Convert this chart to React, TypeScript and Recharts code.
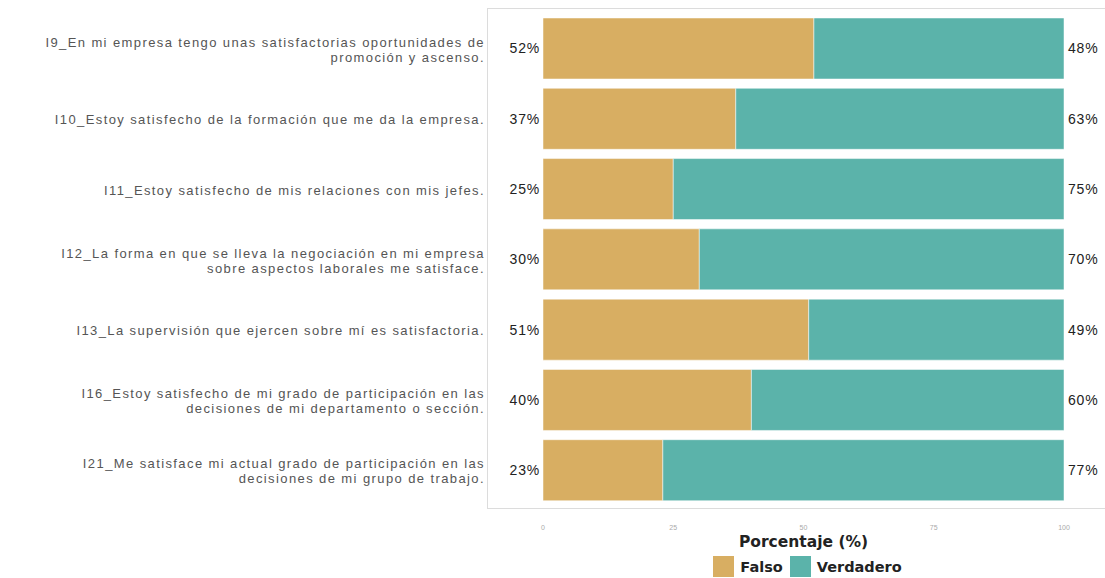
import { BarChart, Bar, XAxis, YAxis, LabelList, Legend } from 'recharts'

const items = [
  'I9_En mi empresa tengo unas satisfactorias oportunidades de|promoción y ascenso.',
  'I10_Estoy satisfecho de la formación que me da la empresa.',
  'I11_Estoy satisfecho de mis relaciones con mis jefes.',
  'I12_La forma en que se lleva la negociación en mi empresa|sobre aspectos laborales me satisface.',
  'I13_La supervisión que ejercen sobre mí es satisfactoria.',
  'I16_Estoy satisfecho de mi grado de participación en las|decisiones de mi departamento o sección.',
  'I21_Me satisface mi actual grado de participación en las|decisiones de mi grupo de trabajo.',
]
const falso = [52, 37, 25, 30, 51, 40, 23]
const verdadero = [48, 63, 75, 70, 49, 60, 77]
const xTicks = [0, 25, 50, 75, 100]

const FALSO_COLOR = '#D8AE62'
const VERDADERO_COLOR = '#5BB3AA'
const BOLD_FONT = 'DejaVu Sans, sans-serif'

const chartData = items.map((item, i) => ({
  item,
  falso: falso[i],
  verdadero: verdadero[i],
}))

// two-line labels, right aligned against the panel
function ItemTick(props: any) {
  const { y, payload } = props
  const lines = String(payload.value).split('|')
  const startY = y - ((lines.length - 1) * 15) / 2 + 1
  return (
    <text
      x={485}
      y={startY}
      textAnchor="end"
      dominantBaseline="central"
      fill="#555"
      fontSize={13}
      letterSpacing={1.4}
      fontFamily="Liberation Sans, Arial, sans-serif"
    >
      {lines.map((line, i) => (
        <tspan key={i} x={485} dy={i === 0 ? 0 : 15}>
          {line}
        </tspan>
      ))}
    </text>
  )
}

function LegendContent(props: any) {
  const { payload } = props
  return (
    <div style={{ display: 'flex', justifyContent: 'center', gap: 7, fontFamily: BOLD_FONT, fontWeight: 700, fontSize: 14.5, color: '#222' }}>
      {payload.map((p: any) => (
        <div key={p.value} style={{ display: 'flex', alignItems: 'center', gap: 6 }}>
          <span style={{ width: 21, height: 21, background: p.color, display: 'inline-block' }} />
          <span>{p.value}</span>
        </div>
      ))}
    </div>
  )
}

export default function App() {
  return (
    <div style={{ position: 'absolute', left: 0, top: 0, width: 1105, height: 578, background: '#fff' }}>
      <div
        style={{
          position: 'absolute',
          left: 487,
          top: 8,
          width: 640,
          height: 501,
          border: '1px solid #dcdcdc',
          boxSizing: 'border-box',
        }}
      />
      <div style={{ position: 'absolute', left: 0, top: 0 }}>
        <BarChart
          width={1105}
          height={578}
          data={chartData}
          layout="vertical"
          margin={{ top: 13, right: 41, bottom: 0, left: 0 }}
        >
          <XAxis
            type="number"
            domain={[0, 100]}
            ticks={xTicks}
            axisLine={false}
            tickLine={false}
            tickMargin={14}
            height={73}
            tick={{ fontSize: 7, fill: '#aaa', fontFamily: 'Liberation Sans, Arial, sans-serif' }}
            label={{
              value: 'Porcentaje (%)',
              position: 'insideTop',
              offset: 31,
              style: { fontFamily: BOLD_FONT, fontWeight: 700, fontSize: 15.5, fill: '#222' },
            }}
          />
          <YAxis
            type="category"
            dataKey="item"
            width={543}
            axisLine={false}
            tickLine={false}
            tick={<ItemTick />}
          />
          <Legend
            verticalAlign="middle"
            align="center"
            content={<LegendContent />}
            wrapperStyle={{ top: 556, left: 547, width: 521 }}
          />
          <Bar dataKey="falso" name="Falso" stackId="a" fill={FALSO_COLOR} barSize={61} stroke="#fff" strokeWidth={0.5} isAnimationActive={false}>
            <LabelList
              dataKey="falso"
              position="left"
              offset={3}
              formatter={(v: any) => `${v}%`}
              style={{ fontSize: 14, letterSpacing: 0.8, fill: '#222', fontFamily: 'Liberation Sans, Arial, sans-serif' }}
            />
          </Bar>
          <Bar dataKey="verdadero" name="Verdadero" stackId="a" fill={VERDADERO_COLOR} barSize={61} stroke="#fff" strokeWidth={0.5} isAnimationActive={false}>
            <LabelList
              dataKey="verdadero"
              position="right"
              offset={4}
              formatter={(v: any) => `${v}%`}
              style={{ fontSize: 14, letterSpacing: 0.8, fill: '#222', fontFamily: 'Liberation Sans, Arial, sans-serif' }}
            />
          </Bar>
        </BarChart>
      </div>
    </div>
  )
}
